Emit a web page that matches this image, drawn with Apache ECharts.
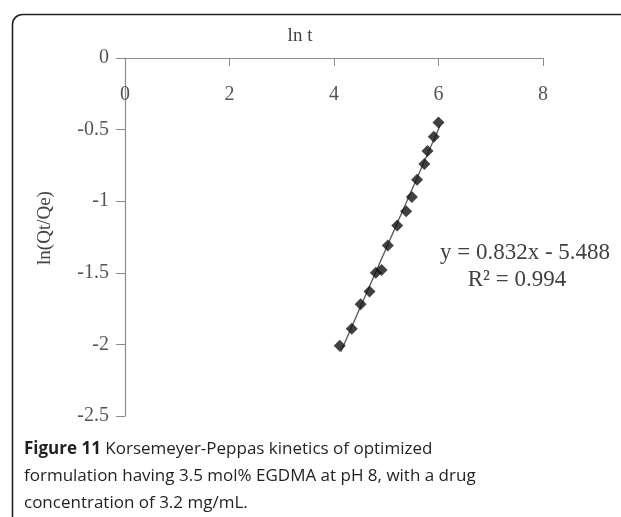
<!DOCTYPE html>
<html>
<head>
<meta charset="utf-8">
<script src="https://cdn.jsdelivr.net/npm/echarts@6/dist/echarts.min.js"></script>
<style>
html,body{margin:0;padding:0;background:#fff;}
#c{width:621px;height:517px;}
</style>
</head>
<body>
<div id="c"></div>
<script>
// Data
var lnT = [6.00, 5.91, 5.79, 5.73, 5.59, 5.49, 5.38, 5.21, 5.03, 4.91, 4.80, 4.68, 4.51, 4.34, 4.11];
var lnQ = [-0.45, -0.55, -0.65, -0.74, -0.85, -0.97, -1.07, -1.17, -1.31, -1.48, -1.50, -1.63, -1.72, -1.89, -2.01];
var fitSlope = 0.832;
var fitIntercept = -5.488;
var fitRange = [4.13, 6.03];
var xTicks = [0, 2, 4, 6, 8];
var yTicks = [0, -0.5, -1, -1.5, -2, -2.5];
var xName = 'ln t';
var yName = 'ln(Qt/Qe)';
var eqText = 'y = 0.832x - 5.488';
var r2Text = 'R² = 0.994';
var captionBold = 'Figure 11';
var captionRest = ' Korsemeyer-Peppas kinetics of optimized';
var captionLines = ['formulation having 3.5 mol% EGDMA at pH 8, with a drug', 'concentration of 3.2 mg/mL.'];

var pts = lnT.map(function (x, i) { return [x, lnQ[i]]; });
var fitPts = fitRange.map(function (x) { return [x, fitSlope * x + fitIntercept]; });

var chart = echarts.init(document.getElementById('c'));
var serif = '"Liberation Serif", "Times New Roman", serif';
var sans = '"Open Sans", "Noto Sans", sans-serif';
var axisGray = '#8c8c8c';
var textGray = '#555555';

chart.setOption({
  animation: false,
  backgroundColor: '#ffffff',
  grid: { left: 125, right: 78, top: 58, bottom: 101, containLabel: false },
  xAxis: {
    type: 'value', position: 'top', min: 0, max: 8, interval: 2,
    axisLine: { onZero: false, lineStyle: { color: axisGray, width: 1.2 } },
    axisTick: { inside: true, length: 8, lineStyle: { color: axisGray } },
    axisLabel: { inside: true, margin: 27, fontFamily: serif, fontSize: 20, color: textGray, showMinLabel: true,
      formatter: function (v) { return xTicks.indexOf(v) >= 0 ? String(v) : ''; } },
    splitLine: { show: false }
  },
  yAxis: {
    type: 'value', min: -2.5, max: 0, interval: 0.5,
    axisLine: { onZero: false, lineStyle: { color: axisGray, width: 1.2 } },
    axisTick: { length: 9, lineStyle: { color: axisGray } },
    axisLabel: { margin: 16, fontFamily: serif, fontSize: 20, color: textGray,
      formatter: function (v) { return yTicks.indexOf(v) >= 0 ? String(v) : ''; } },
    splitLine: { show: false }
  },
  series: [
    {
      type: 'line', data: fitPts, showSymbol: false, symbol: 'none',
      lineStyle: { color: '#555', width: 1.3 }, z: 1, silent: true
    },
    {
      type: 'scatter', data: pts, symbol: 'diamond', symbolSize: 12,
      itemStyle: { color: '#111111' }, z: 2
    }
  ],
  graphic: [
    { type: 'rect', left: 10, top: 12, shape: { width: 640, height: 540, r: 10 },
      style: { fill: null, stroke: '#222', lineWidth: 1.6 }, z: -1 },
    { type: 'text', x: 300, y: 36, style: { text: xName, font: '19px ' + serif, fill: '#444', textAlign: 'center', textVerticalAlign: 'middle' } },
    { type: 'text', x: 45, y: 228, rotation: Math.PI / 2, style: { text: yName, font: '19px ' + serif, fill: '#444', textAlign: 'center', textVerticalAlign: 'middle' } },
    { type: 'text', x: 525, y: 253, style: { text: eqText, font: '23px ' + serif, fill: '#404040', textAlign: 'center', textVerticalAlign: 'middle' } },
    { type: 'text', x: 517, y: 280, style: { text: r2Text, font: '23px ' + serif, fill: '#404040', textAlign: 'center', textVerticalAlign: 'middle' } },
    { type: 'text', x: 24, y: 436,
      style: {
        text: '{b|' + captionBold + '}{n|' + captionRest + '}\n{n|' + captionLines[0] + '}\n{n|' + captionLines[1] + '}',
        rich: {
          b: { fontFamily: sans, fontSize: 17, fontWeight: 'bold', fill: '#231f20', lineHeight: 27 },
          n: { fontFamily: sans, fontSize: 17, fill: '#231f20', lineHeight: 27 }
        }
      } }
  ]
});
</script>
</body>
</html>
